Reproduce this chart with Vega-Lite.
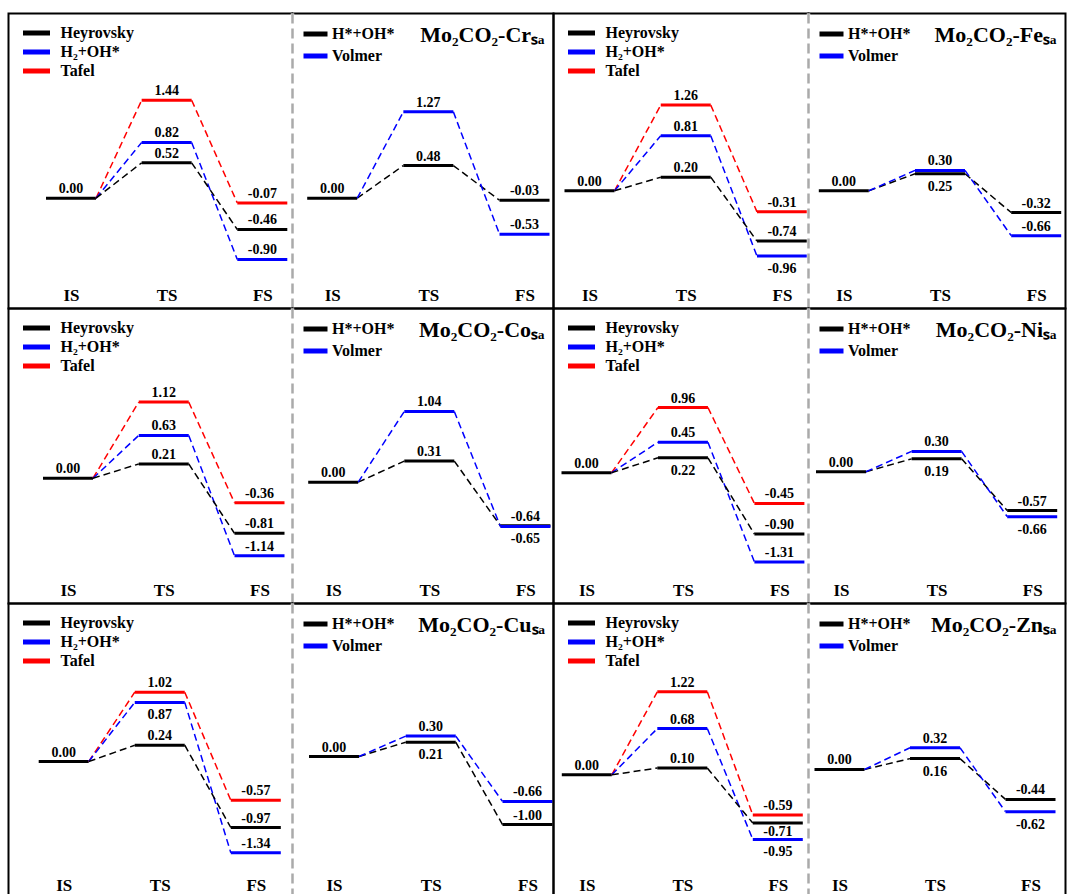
{
"$schema": "https://vega.github.io/schema/vega-lite/v6.json",
"background": "white",
"padding": {"left": 7.5, "top": 10.5, "right": 0, "bottom": 0},
"config": {
 "view": {"stroke": "black", "strokeWidth": 2},
 "axisX": {"domain": false, "ticks": false, "tickSize": 0, "grid": false, "labelPadding": -8, "labelBaseline": "alphabetic", "labelFont": "Liberation Serif", "labelFontSize": 17, "labelFontWeight": "bold", "labelColor": "black", "labelAngle": 0},
 "legend": {"symbolType": "stroke", "symbolSize": 729, "symbolStrokeWidth": 5, "clipHeight": 19, "padding": 0, "labelFont": "Liberation Serif", "labelFontSize": 16, "labelFontWeight": "bold", "labelColor": "black"},
 "title": {"font": "Liberation Serif", "fontSize": 22, "fontWeight": "bold", "color": "black", "anchor": "end", "offset": -35, "dx": -9, "baseline": "alphabetic"},
 "text": {"font": "Liberation Serif", "fontSize": 14, "fontWeight": "bold"},
 "locale": {"number": {"decimal": ".", "thousands": ",", "grouping": [3], "currency": ["$", ""], "minus": "-"}}
},
"data": {"values": [
 {"panel":"CrL","path":"Tafel","state":"IS","E":0},{"panel":"CrL","path":"Tafel","state":"TS","E":1.44},{"panel":"CrL","path":"Tafel","state":"FS","E":-0.07},
 {"panel":"CrL","path":"H₂+OH*","state":"IS","E":0},{"panel":"CrL","path":"H₂+OH*","state":"TS","E":0.82},{"panel":"CrL","path":"H₂+OH*","state":"FS","E":-0.90},
 {"panel":"CrL","path":"Heyrovsky","state":"IS","E":0},{"panel":"CrL","path":"Heyrovsky","state":"TS","E":0.52},{"panel":"CrL","path":"Heyrovsky","state":"FS","E":-0.46},
 {"panel":"CrR","path":"H*+OH*","state":"IS","E":0},{"panel":"CrR","path":"H*+OH*","state":"TS","E":0.48},{"panel":"CrR","path":"H*+OH*","state":"FS","E":-0.03},
 {"panel":"CrR","path":"Volmer","state":"IS","E":0},{"panel":"CrR","path":"Volmer","state":"TS","E":1.27},{"panel":"CrR","path":"Volmer","state":"FS","E":-0.53},
 {"panel":"FeL","path":"Tafel","state":"IS","E":0},{"panel":"FeL","path":"Tafel","state":"TS","E":1.26},{"panel":"FeL","path":"Tafel","state":"FS","E":-0.31},
 {"panel":"FeL","path":"H₂+OH*","state":"IS","E":0},{"panel":"FeL","path":"H₂+OH*","state":"TS","E":0.81},{"panel":"FeL","path":"H₂+OH*","state":"FS","E":-0.96},
 {"panel":"FeL","path":"Heyrovsky","state":"IS","E":0},{"panel":"FeL","path":"Heyrovsky","state":"TS","E":0.20},{"panel":"FeL","path":"Heyrovsky","state":"FS","E":-0.74},
 {"panel":"FeR","path":"H*+OH*","state":"IS","E":0},{"panel":"FeR","path":"H*+OH*","state":"TS","E":0.25},{"panel":"FeR","path":"H*+OH*","state":"FS","E":-0.32},
 {"panel":"FeR","path":"Volmer","state":"IS","E":0},{"panel":"FeR","path":"Volmer","state":"TS","E":0.30},{"panel":"FeR","path":"Volmer","state":"FS","E":-0.66},
 {"panel":"CoL","path":"Tafel","state":"IS","E":0},{"panel":"CoL","path":"Tafel","state":"TS","E":1.12},{"panel":"CoL","path":"Tafel","state":"FS","E":-0.36},
 {"panel":"CoL","path":"H₂+OH*","state":"IS","E":0},{"panel":"CoL","path":"H₂+OH*","state":"TS","E":0.63},{"panel":"CoL","path":"H₂+OH*","state":"FS","E":-1.14},
 {"panel":"CoL","path":"Heyrovsky","state":"IS","E":0},{"panel":"CoL","path":"Heyrovsky","state":"TS","E":0.21},{"panel":"CoL","path":"Heyrovsky","state":"FS","E":-0.81},
 {"panel":"CoR","path":"H*+OH*","state":"IS","E":0},{"panel":"CoR","path":"H*+OH*","state":"TS","E":0.31},{"panel":"CoR","path":"H*+OH*","state":"FS","E":-0.64},
 {"panel":"CoR","path":"Volmer","state":"IS","E":0},{"panel":"CoR","path":"Volmer","state":"TS","E":1.04},{"panel":"CoR","path":"Volmer","state":"FS","E":-0.65},
 {"panel":"NiL","path":"Tafel","state":"IS","E":0},{"panel":"NiL","path":"Tafel","state":"TS","E":0.96},{"panel":"NiL","path":"Tafel","state":"FS","E":-0.45},
 {"panel":"NiL","path":"H₂+OH*","state":"IS","E":0},{"panel":"NiL","path":"H₂+OH*","state":"TS","E":0.45},{"panel":"NiL","path":"H₂+OH*","state":"FS","E":-1.31},
 {"panel":"NiL","path":"Heyrovsky","state":"IS","E":0},{"panel":"NiL","path":"Heyrovsky","state":"TS","E":0.22},{"panel":"NiL","path":"Heyrovsky","state":"FS","E":-0.90},
 {"panel":"NiR","path":"H*+OH*","state":"IS","E":0},{"panel":"NiR","path":"H*+OH*","state":"TS","E":0.19},{"panel":"NiR","path":"H*+OH*","state":"FS","E":-0.57},
 {"panel":"NiR","path":"Volmer","state":"IS","E":0},{"panel":"NiR","path":"Volmer","state":"TS","E":0.30},{"panel":"NiR","path":"Volmer","state":"FS","E":-0.66},
 {"panel":"CuL","path":"Tafel","state":"IS","E":0},{"panel":"CuL","path":"Tafel","state":"TS","E":1.02},{"panel":"CuL","path":"Tafel","state":"FS","E":-0.57},
 {"panel":"CuL","path":"H₂+OH*","state":"IS","E":0},{"panel":"CuL","path":"H₂+OH*","state":"TS","E":0.87},{"panel":"CuL","path":"H₂+OH*","state":"FS","E":-1.34},
 {"panel":"CuL","path":"Heyrovsky","state":"IS","E":0},{"panel":"CuL","path":"Heyrovsky","state":"TS","E":0.24},{"panel":"CuL","path":"Heyrovsky","state":"FS","E":-0.97},
 {"panel":"CuR","path":"H*+OH*","state":"IS","E":0},{"panel":"CuR","path":"H*+OH*","state":"TS","E":0.21},{"panel":"CuR","path":"H*+OH*","state":"FS","E":-1.00},
 {"panel":"CuR","path":"Volmer","state":"IS","E":0},{"panel":"CuR","path":"Volmer","state":"TS","E":0.30},{"panel":"CuR","path":"Volmer","state":"FS","E":-0.66},
 {"panel":"ZnL","path":"Tafel","state":"IS","E":0},{"panel":"ZnL","path":"Tafel","state":"TS","E":1.22},{"panel":"ZnL","path":"Tafel","state":"FS","E":-0.59},
 {"panel":"ZnL","path":"H₂+OH*","state":"IS","E":0},{"panel":"ZnL","path":"H₂+OH*","state":"TS","E":0.68},{"panel":"ZnL","path":"H₂+OH*","state":"FS","E":-0.95},
 {"panel":"ZnL","path":"Heyrovsky","state":"IS","E":0},{"panel":"ZnL","path":"Heyrovsky","state":"TS","E":0.10},{"panel":"ZnL","path":"Heyrovsky","state":"FS","E":-0.71},
 {"panel":"ZnR","path":"H*+OH*","state":"IS","E":0},{"panel":"ZnR","path":"H*+OH*","state":"TS","E":0.16},{"panel":"ZnR","path":"H*+OH*","state":"FS","E":-0.44},
 {"panel":"ZnR","path":"Volmer","state":"IS","E":0},{"panel":"ZnR","path":"Volmer","state":"TS","E":0.32},{"panel":"ZnR","path":"Volmer","state":"FS","E":-0.62}
]},
"columns": 4,
"spacing": 0,
"bounds": "flush",
"resolve": {"scale": {"color": "independent"}, "legend": {"color": "independent"}},
"concat": [
 {"width": 283.5, "height": 295,
  "transform": [{"filter": {"field": "panel", "equal": "CrL"}}],
  "encoding": {
   "x": {"field": "state", "type": "ordinal", "title": null, "scale": {"type": "point", "padding": 0, "domain": ["IS","TS","FS"], "range": [62.5, 253.8]}},
   "y": {"field": "E", "type": "quantitative", "scale": {"domain": [-1.622, 2.716], "nice": false, "zero": false}, "axis": null},
   "color": {"field": "path", "type": "nominal", "scale": {"domain": ["Heyrovsky","H₂+OH*","Tafel"], "range": ["#000000","#0000ff","#ff0000"]}, "legend": {"title": null, "orient": "top-left", "offset": 10, "symbolOffset": 2, "labelOffset": 8, "rowPadding": 0}}
  },
  "layer": [
   {"transform": [{"filter": "datum.state != 'IS' || datum.path == 'Heyrovsky' || datum.path == 'H*+OH*'"}],
    "mark": {"type": "rule", "strokeWidth": 3, "xOffset": -25, "x2Offset": 25},
    "encoding": {"x2": {"field": "state"}}},
   {"transform": [{"window": [{"op": "lead", "field": "E", "as": "E2"}, {"op": "lead", "field": "state", "as": "s2"}], "groupby": ["path"]}, {"filter": "datum.s2 != null"}],
    "mark": {"type": "rule", "strokeWidth": 1.5, "strokeDash": [7, 4], "xOffset": 25, "x2Offset": -25},
    "encoding": {"x2": {"field": "s2"}, "y2": {"field": "E2"}}},
   {"transform": [{"filter": "datum.state != 'IS' || datum.path == 'Heyrovsky' || datum.path == 'H*+OH*'"}],
    "mark": {"type": "text", "dy": -5, "baseline": "alphabetic"},
    "encoding": {"text": {"field": "E", "type": "quantitative", "format": ".2f"}, "color": {"value": "black"}}}
  ]},
 {"width": 261, "height": 295, "title": "Mo₂CO₂-Crₛₐ",
  "transform": [{"filter": {"field": "panel", "equal": "CrR"}}],
  "encoding": {
   "x": {"field": "state", "type": "ordinal", "title": null, "scale": {"type": "point", "padding": 0, "domain": ["IS","TS","FS"], "range": [39.7, 232]}},
   "y": {"field": "E", "type": "quantitative", "scale": {"domain": [-1.622, 2.716], "nice": false, "zero": false}, "axis": null},
   "color": {"field": "path", "type": "nominal", "scale": {"domain": ["H*+OH*","Volmer"], "range": ["#000000","#0000ff"]}, "legend": {"title": null, "orient": "top-left", "offset": 11, "symbolOffset": -5.5, "labelOffset": 2, "rowPadding": 3}}
  },
  "layer": [
   {"transform": [{"filter": "datum.state == 'IS' && datum.path == 'Volmer'"}], "mark": {"type": "rule", "strokeWidth": 3.5}, "encoding": {"x": {"value": 0}, "y": {"value": 0}, "y2": {"value": "height"}, "color": {"value": "white"}}},
   {"transform": [{"filter": "datum.state == 'IS' && datum.path == 'Volmer'"}], "mark": {"type": "rule", "strokeWidth": 2.5, "strokeDash": [10, 5]}, "encoding": {"x": {"value": 0}, "y": {"value": 0}, "y2": {"value": "height"}, "color": {"value": "#aaaaaa"}}},
   {"transform": [{"filter": "datum.state != 'IS' || datum.path == 'Heyrovsky' || datum.path == 'H*+OH*'"}],
    "mark": {"type": "rule", "strokeWidth": 3, "xOffset": -25, "x2Offset": 25},
    "encoding": {"x2": {"field": "state"}}},
   {"transform": [{"window": [{"op": "lead", "field": "E", "as": "E2"}, {"op": "lead", "field": "state", "as": "s2"}], "groupby": ["path"]}, {"filter": "datum.s2 != null"}],
    "mark": {"type": "rule", "strokeWidth": 1.5, "strokeDash": [7, 4], "xOffset": 25, "x2Offset": -25},
    "encoding": {"x2": {"field": "s2"}, "y2": {"field": "E2"}}},
   {"transform": [{"filter": "datum.state != 'IS' || datum.path == 'Heyrovsky' || datum.path == 'H*+OH*'"}],
    "mark": {"type": "text", "dy": -5, "baseline": "alphabetic"},
    "encoding": {"text": {"field": "E", "type": "quantitative", "format": ".2f"}, "color": {"value": "black"}}}
  ]},
 {"width": 255, "height": 295,
  "transform": [{"filter": {"field": "panel", "equal": "FeL"}}],
  "encoding": {
   "x": {"field": "state", "type": "ordinal", "title": null, "scale": {"type": "point", "padding": 0, "domain": ["IS","TS","FS"], "range": [36, 228.5]}},
   "y": {"field": "E", "type": "quantitative", "scale": {"domain": [-1.731, 2.607], "nice": false, "zero": false}, "axis": null},
   "color": {"field": "path", "type": "nominal", "scale": {"domain": ["Heyrovsky","H₂+OH*","Tafel"], "range": ["#000000","#0000ff","#ff0000"]}, "legend": {"title": null, "orient": "top-left", "offset": 10, "symbolOffset": 2, "labelOffset": 8, "rowPadding": 0}}
  },
  "layer": [
   {"transform": [{"filter": "datum.state != 'IS' || datum.path == 'Heyrovsky' || datum.path == 'H*+OH*'"}],
    "mark": {"type": "rule", "strokeWidth": 3, "xOffset": -25, "x2Offset": 25},
    "encoding": {"x2": {"field": "state"}}},
   {"transform": [{"window": [{"op": "lead", "field": "E", "as": "E2"}, {"op": "lead", "field": "state", "as": "s2"}], "groupby": ["path"]}, {"filter": "datum.s2 != null"}],
    "mark": {"type": "rule", "strokeWidth": 1.5, "strokeDash": [7, 4], "xOffset": 25, "x2Offset": -25},
    "encoding": {"x2": {"field": "s2"}, "y2": {"field": "E2"}}},
   {"transform": [{"filter": "(datum.state != 'IS' || datum.path == 'Heyrovsky' || datum.path == 'H*+OH*') && !(datum.path == 'H₂+OH*' && datum.state == 'FS')"}],
    "mark": {"type": "text", "dy": -5, "baseline": "alphabetic"},
    "encoding": {"text": {"field": "E", "type": "quantitative", "format": ".2f"}, "color": {"value": "black"}}},
   {"transform": [{"filter": "datum.path == 'H₂+OH*' && datum.state == 'FS'"}],
    "mark": {"type": "text", "dy": 17, "baseline": "alphabetic"},
    "encoding": {"text": {"field": "E", "type": "quantitative", "format": ".2f"}, "color": {"value": "black"}}}
  ]},
 {"width": 257, "height": 295, "title": "Mo₂CO₂-Feₛₐ",
  "transform": [{"filter": {"field": "panel", "equal": "FeR"}}],
  "encoding": {
   "x": {"field": "state", "type": "ordinal", "title": null, "scale": {"type": "point", "padding": 0, "domain": ["IS","TS","FS"], "range": [35.3, 227.7]}},
   "y": {"field": "E", "type": "quantitative", "scale": {"domain": [-1.731, 2.607], "nice": false, "zero": false}, "axis": null},
   "color": {"field": "path", "type": "nominal", "scale": {"domain": ["H*+OH*","Volmer"], "range": ["#000000","#0000ff"]}, "legend": {"title": null, "orient": "top-left", "offset": 11, "symbolOffset": -5.5, "labelOffset": 2, "rowPadding": 3}}
  },
  "layer": [
   {"transform": [{"filter": "datum.state == 'IS' && datum.path == 'Volmer'"}], "mark": {"type": "rule", "strokeWidth": 3.5}, "encoding": {"x": {"value": 0}, "y": {"value": 0}, "y2": {"value": "height"}, "color": {"value": "white"}}},
   {"transform": [{"filter": "datum.state == 'IS' && datum.path == 'Volmer'"}], "mark": {"type": "rule", "strokeWidth": 2.5, "strokeDash": [10, 5]}, "encoding": {"x": {"value": 0}, "y": {"value": 0}, "y2": {"value": "height"}, "color": {"value": "#aaaaaa"}}},
   {"transform": [{"filter": "datum.state != 'IS' || datum.path == 'Heyrovsky' || datum.path == 'H*+OH*'"}],
    "mark": {"type": "rule", "strokeWidth": 3, "xOffset": -25, "x2Offset": 25},
    "encoding": {"x2": {"field": "state"}}},
   {"transform": [{"window": [{"op": "lead", "field": "E", "as": "E2"}, {"op": "lead", "field": "state", "as": "s2"}], "groupby": ["path"]}, {"filter": "datum.s2 != null"}],
    "mark": {"type": "rule", "strokeWidth": 1.5, "strokeDash": [7, 4], "xOffset": 25, "x2Offset": -25},
    "encoding": {"x2": {"field": "s2"}, "y2": {"field": "E2"}}},
   {"transform": [{"filter": "(datum.state != 'IS' || datum.path == 'Heyrovsky' || datum.path == 'H*+OH*') && !(datum.path == 'H*+OH*' && datum.state == 'TS')"}],
    "mark": {"type": "text", "dy": -5, "baseline": "alphabetic"},
    "encoding": {"text": {"field": "E", "type": "quantitative", "format": ".2f"}, "color": {"value": "black"}}},
   {"transform": [{"filter": "datum.path == 'H*+OH*' && datum.state == 'TS'"}],
    "mark": {"type": "text", "dy": 17, "baseline": "alphabetic"},
    "encoding": {"text": {"field": "E", "type": "quantitative", "format": ".2f"}, "color": {"value": "black"}}}
  ]},
 {"width": 283.5, "height": 295,
  "transform": [{"filter": {"field": "panel", "equal": "CoL"}}],
  "encoding": {
   "x": {"field": "state", "type": "ordinal", "title": null, "scale": {"type": "point", "padding": 0, "domain": ["IS","TS","FS"], "range": [59.5, 251]}},
   "y": {"field": "E", "type": "quantitative", "scale": {"domain": [-1.842, 2.496], "nice": false, "zero": false}, "axis": null},
   "color": {"field": "path", "type": "nominal", "scale": {"domain": ["Heyrovsky","H₂+OH*","Tafel"], "range": ["#000000","#0000ff","#ff0000"]}, "legend": {"title": null, "orient": "top-left", "offset": 10, "symbolOffset": 2, "labelOffset": 8, "rowPadding": 0}}
  },
  "layer": [
   {"transform": [{"filter": "datum.state != 'IS' || datum.path == 'Heyrovsky' || datum.path == 'H*+OH*'"}],
    "mark": {"type": "rule", "strokeWidth": 3, "xOffset": -25, "x2Offset": 25},
    "encoding": {"x2": {"field": "state"}}},
   {"transform": [{"window": [{"op": "lead", "field": "E", "as": "E2"}, {"op": "lead", "field": "state", "as": "s2"}], "groupby": ["path"]}, {"filter": "datum.s2 != null"}],
    "mark": {"type": "rule", "strokeWidth": 1.5, "strokeDash": [7, 4], "xOffset": 25, "x2Offset": -25},
    "encoding": {"x2": {"field": "s2"}, "y2": {"field": "E2"}}},
   {"transform": [{"filter": "datum.state != 'IS' || datum.path == 'Heyrovsky' || datum.path == 'H*+OH*'"}],
    "mark": {"type": "text", "dy": -5, "baseline": "alphabetic"},
    "encoding": {"text": {"field": "E", "type": "quantitative", "format": ".2f"}, "color": {"value": "black"}}}
  ]},
 {"width": 261, "height": 295, "title": "Mo₂CO₂-Coₛₐ",
  "transform": [{"filter": {"field": "panel", "equal": "CoR"}}],
  "encoding": {
   "x": {"field": "state", "type": "ordinal", "title": null, "scale": {"type": "point", "padding": 0, "domain": ["IS","TS","FS"], "range": [40.7, 232.9]}},
   "y": {"field": "E", "type": "quantitative", "scale": {"domain": [-1.784, 2.554], "nice": false, "zero": false}, "axis": null},
   "color": {"field": "path", "type": "nominal", "scale": {"domain": ["H*+OH*","Volmer"], "range": ["#000000","#0000ff"]}, "legend": {"title": null, "orient": "top-left", "offset": 11, "symbolOffset": -5.5, "labelOffset": 2, "rowPadding": 3}}
  },
  "layer": [
   {"transform": [{"filter": "datum.state == 'IS' && datum.path == 'Volmer'"}], "mark": {"type": "rule", "strokeWidth": 3.5}, "encoding": {"x": {"value": 0}, "y": {"value": 0}, "y2": {"value": "height"}, "color": {"value": "white"}}},
   {"transform": [{"filter": "datum.state == 'IS' && datum.path == 'Volmer'"}], "mark": {"type": "rule", "strokeWidth": 2.5, "strokeDash": [10, 5]}, "encoding": {"x": {"value": 0}, "y": {"value": 0}, "y2": {"value": "height"}, "color": {"value": "#aaaaaa"}}},
   {"transform": [{"filter": "datum.state != 'IS' || datum.path == 'Heyrovsky' || datum.path == 'H*+OH*'"}],
    "mark": {"type": "rule", "strokeWidth": 3, "xOffset": -25, "x2Offset": 25},
    "encoding": {"x2": {"field": "state"}}},
   {"transform": [{"window": [{"op": "lead", "field": "E", "as": "E2"}, {"op": "lead", "field": "state", "as": "s2"}], "groupby": ["path"]}, {"filter": "datum.s2 != null"}],
    "mark": {"type": "rule", "strokeWidth": 1.5, "strokeDash": [7, 4], "xOffset": 25, "x2Offset": -25},
    "encoding": {"x2": {"field": "s2"}, "y2": {"field": "E2"}}},
   {"transform": [{"filter": "(datum.state != 'IS' || datum.path == 'Heyrovsky' || datum.path == 'H*+OH*') && !(datum.path == 'Volmer' && datum.state == 'FS')"}],
    "mark": {"type": "text", "dy": -5, "baseline": "alphabetic"},
    "encoding": {"text": {"field": "E", "type": "quantitative", "format": ".2f"}, "color": {"value": "black"}}},
   {"transform": [{"filter": "datum.path == 'Volmer' && datum.state == 'FS'"}],
    "mark": {"type": "text", "dy": 17, "baseline": "alphabetic"},
    "encoding": {"text": {"field": "E", "type": "quantitative", "format": ".2f"}, "color": {"value": "black"}}}
  ]},
 {"width": 255, "height": 295,
  "transform": [{"filter": {"field": "panel", "equal": "NiL"}}],
  "encoding": {
   "x": {"field": "state", "type": "ordinal", "title": null, "scale": {"type": "point", "padding": 0, "domain": ["IS","TS","FS"], "range": [33, 225.9]}},
   "y": {"field": "E", "type": "quantitative", "scale": {"domain": [-1.922, 2.416], "nice": false, "zero": false}, "axis": null},
   "color": {"field": "path", "type": "nominal", "scale": {"domain": ["Heyrovsky","H₂+OH*","Tafel"], "range": ["#000000","#0000ff","#ff0000"]}, "legend": {"title": null, "orient": "top-left", "offset": 10, "symbolOffset": 2, "labelOffset": 8, "rowPadding": 0}}
  },
  "layer": [
   {"transform": [{"filter": "datum.state != 'IS' || datum.path == 'Heyrovsky' || datum.path == 'H*+OH*'"}],
    "mark": {"type": "rule", "strokeWidth": 3, "xOffset": -25, "x2Offset": 25},
    "encoding": {"x2": {"field": "state"}}},
   {"transform": [{"window": [{"op": "lead", "field": "E", "as": "E2"}, {"op": "lead", "field": "state", "as": "s2"}], "groupby": ["path"]}, {"filter": "datum.s2 != null"}],
    "mark": {"type": "rule", "strokeWidth": 1.5, "strokeDash": [7, 4], "xOffset": 25, "x2Offset": -25},
    "encoding": {"x2": {"field": "s2"}, "y2": {"field": "E2"}}},
   {"transform": [{"filter": "(datum.state != 'IS' || datum.path == 'Heyrovsky' || datum.path == 'H*+OH*') && !(datum.path == 'Heyrovsky' && datum.state == 'TS')"}],
    "mark": {"type": "text", "dy": -5, "baseline": "alphabetic"},
    "encoding": {"text": {"field": "E", "type": "quantitative", "format": ".2f"}, "color": {"value": "black"}}},
   {"transform": [{"filter": "datum.path == 'Heyrovsky' && datum.state == 'TS'"}],
    "mark": {"type": "text", "dy": 17, "baseline": "alphabetic"},
    "encoding": {"text": {"field": "E", "type": "quantitative", "format": ".2f"}, "color": {"value": "black"}}}
  ]},
 {"width": 257, "height": 295, "title": "Mo₂CO₂-Niₛₐ",
  "transform": [{"filter": {"field": "panel", "equal": "NiR"}}],
  "encoding": {
   "x": {"field": "state", "type": "ordinal", "title": null, "scale": {"type": "point", "padding": 0, "domain": ["IS","TS","FS"], "range": [32.5, 223.7]}},
   "y": {"field": "E", "type": "quantitative", "scale": {"domain": [-1.937, 2.401], "nice": false, "zero": false}, "axis": null},
   "color": {"field": "path", "type": "nominal", "scale": {"domain": ["H*+OH*","Volmer"], "range": ["#000000","#0000ff"]}, "legend": {"title": null, "orient": "top-left", "offset": 11, "symbolOffset": -5.5, "labelOffset": 2, "rowPadding": 3}}
  },
  "layer": [
   {"transform": [{"filter": "datum.state == 'IS' && datum.path == 'Volmer'"}], "mark": {"type": "rule", "strokeWidth": 3.5}, "encoding": {"x": {"value": 0}, "y": {"value": 0}, "y2": {"value": "height"}, "color": {"value": "white"}}},
   {"transform": [{"filter": "datum.state == 'IS' && datum.path == 'Volmer'"}], "mark": {"type": "rule", "strokeWidth": 2.5, "strokeDash": [10, 5]}, "encoding": {"x": {"value": 0}, "y": {"value": 0}, "y2": {"value": "height"}, "color": {"value": "#aaaaaa"}}},
   {"transform": [{"filter": "datum.state != 'IS' || datum.path == 'Heyrovsky' || datum.path == 'H*+OH*'"}],
    "mark": {"type": "rule", "strokeWidth": 3, "xOffset": -25, "x2Offset": 25},
    "encoding": {"x2": {"field": "state"}}},
   {"transform": [{"window": [{"op": "lead", "field": "E", "as": "E2"}, {"op": "lead", "field": "state", "as": "s2"}], "groupby": ["path"]}, {"filter": "datum.s2 != null"}],
    "mark": {"type": "rule", "strokeWidth": 1.5, "strokeDash": [7, 4], "xOffset": 25, "x2Offset": -25},
    "encoding": {"x2": {"field": "s2"}, "y2": {"field": "E2"}}},
   {"transform": [{"filter": "(datum.state != 'IS' || datum.path == 'Heyrovsky' || datum.path == 'H*+OH*') && !((datum.path == 'H*+OH*' && datum.state == 'TS') || (datum.path == 'Volmer' && datum.state == 'FS'))"}],
    "mark": {"type": "text", "dy": -5, "baseline": "alphabetic"},
    "encoding": {"text": {"field": "E", "type": "quantitative", "format": ".2f"}, "color": {"value": "black"}}},
   {"transform": [{"filter": "(datum.path == 'H*+OH*' && datum.state == 'TS') || (datum.path == 'Volmer' && datum.state == 'FS')"}],
    "mark": {"type": "text", "dy": 17, "baseline": "alphabetic"},
    "encoding": {"text": {"field": "E", "type": "quantitative", "format": ".2f"}, "color": {"value": "black"}}}
  ]},
 {"width": 283.5, "height": 295,
  "transform": [{"filter": {"field": "panel", "equal": "CuL"}}],
  "encoding": {
   "x": {"field": "state", "type": "ordinal", "title": null, "scale": {"type": "point", "padding": 0, "domain": ["IS","TS","FS"], "range": [55.2, 247.3]}},
   "y": {"field": "E", "type": "quantitative", "scale": {"domain": [-2.014, 2.324], "nice": false, "zero": false}, "axis": null},
   "color": {"field": "path", "type": "nominal", "scale": {"domain": ["Heyrovsky","H₂+OH*","Tafel"], "range": ["#000000","#0000ff","#ff0000"]}, "legend": {"title": null, "orient": "top-left", "offset": 10, "symbolOffset": 2, "labelOffset": 8, "rowPadding": 0}}
  },
  "layer": [
   {"transform": [{"filter": "datum.state != 'IS' || datum.path == 'Heyrovsky' || datum.path == 'H*+OH*'"}],
    "mark": {"type": "rule", "strokeWidth": 3, "xOffset": -25, "x2Offset": 25},
    "encoding": {"x2": {"field": "state"}}},
   {"transform": [{"window": [{"op": "lead", "field": "E", "as": "E2"}, {"op": "lead", "field": "state", "as": "s2"}], "groupby": ["path"]}, {"filter": "datum.s2 != null"}],
    "mark": {"type": "rule", "strokeWidth": 1.5, "strokeDash": [7, 4], "xOffset": 25, "x2Offset": -25},
    "encoding": {"x2": {"field": "s2"}, "y2": {"field": "E2"}}},
   {"transform": [{"filter": "(datum.state != 'IS' || datum.path == 'Heyrovsky' || datum.path == 'H*+OH*') && !(datum.path == 'H₂+OH*' && datum.state == 'TS')"}],
    "mark": {"type": "text", "dy": -5, "baseline": "alphabetic"},
    "encoding": {"text": {"field": "E", "type": "quantitative", "format": ".2f"}, "color": {"value": "black"}}},
   {"transform": [{"filter": "datum.path == 'H₂+OH*' && datum.state == 'TS'"}],
    "mark": {"type": "text", "dy": 17, "baseline": "alphabetic"},
    "encoding": {"text": {"field": "E", "type": "quantitative", "format": ".2f"}, "color": {"value": "black"}}}
  ]},
 {"width": 261, "height": 295, "title": "Mo₂CO₂-Cuₛₐ",
  "transform": [{"filter": {"field": "panel", "equal": "CuR"}}],
  "encoding": {
   "x": {"field": "state", "type": "ordinal", "title": null, "scale": {"type": "point", "padding": 0, "domain": ["IS","TS","FS"], "range": [41.5, 235]}},
   "y": {"field": "E", "type": "quantitative", "scale": {"domain": [-2.088, 2.25], "nice": false, "zero": false}, "axis": null},
   "color": {"field": "path", "type": "nominal", "scale": {"domain": ["H*+OH*","Volmer"], "range": ["#000000","#0000ff"]}, "legend": {"title": null, "orient": "top-left", "offset": 11, "symbolOffset": -5.5, "labelOffset": 2, "rowPadding": 3}}
  },
  "layer": [
   {"transform": [{"filter": "datum.state == 'IS' && datum.path == 'Volmer'"}], "mark": {"type": "rule", "strokeWidth": 3.5}, "encoding": {"x": {"value": 0}, "y": {"value": 0}, "y2": {"value": "height"}, "color": {"value": "white"}}},
   {"transform": [{"filter": "datum.state == 'IS' && datum.path == 'Volmer'"}], "mark": {"type": "rule", "strokeWidth": 2.5, "strokeDash": [10, 5]}, "encoding": {"x": {"value": 0}, "y": {"value": 0}, "y2": {"value": "height"}, "color": {"value": "#aaaaaa"}}},
   {"transform": [{"filter": "datum.state != 'IS' || datum.path == 'Heyrovsky' || datum.path == 'H*+OH*'"}],
    "mark": {"type": "rule", "strokeWidth": 3, "xOffset": -25, "x2Offset": 25},
    "encoding": {"x2": {"field": "state"}}},
   {"transform": [{"window": [{"op": "lead", "field": "E", "as": "E2"}, {"op": "lead", "field": "state", "as": "s2"}], "groupby": ["path"]}, {"filter": "datum.s2 != null"}],
    "mark": {"type": "rule", "strokeWidth": 1.5, "strokeDash": [7, 4], "xOffset": 25, "x2Offset": -25},
    "encoding": {"x2": {"field": "s2"}, "y2": {"field": "E2"}}},
   {"transform": [{"filter": "(datum.state != 'IS' || datum.path == 'Heyrovsky' || datum.path == 'H*+OH*') && !(datum.path == 'H*+OH*' && datum.state == 'TS')"}],
    "mark": {"type": "text", "dy": -5, "baseline": "alphabetic"},
    "encoding": {"text": {"field": "E", "type": "quantitative", "format": ".2f"}, "color": {"value": "black"}}},
   {"transform": [{"filter": "datum.path == 'H*+OH*' && datum.state == 'TS'"}],
    "mark": {"type": "text", "dy": 17, "baseline": "alphabetic"},
    "encoding": {"text": {"field": "E", "type": "quantitative", "format": ".2f"}, "color": {"value": "black"}}}
  ]},
 {"width": 255, "height": 295,
  "transform": [{"filter": {"field": "panel", "equal": "ZnL"}}],
  "encoding": {
   "x": {"field": "state", "type": "ordinal", "title": null, "scale": {"type": "point", "padding": 0, "domain": ["IS","TS","FS"], "range": [33.3, 224.3]}},
   "y": {"field": "E", "type": "quantitative", "scale": {"domain": [-1.819, 2.519], "nice": false, "zero": false}, "axis": null},
   "color": {"field": "path", "type": "nominal", "scale": {"domain": ["Heyrovsky","H₂+OH*","Tafel"], "range": ["#000000","#0000ff","#ff0000"]}, "legend": {"title": null, "orient": "top-left", "offset": 10, "symbolOffset": 2, "labelOffset": 8, "rowPadding": 0}}
  },
  "layer": [
   {"transform": [{"filter": "datum.state != 'IS' || datum.path == 'Heyrovsky' || datum.path == 'H*+OH*'"}],
    "mark": {"type": "rule", "strokeWidth": 3, "xOffset": -25, "x2Offset": 25},
    "encoding": {"x2": {"field": "state"}}},
   {"transform": [{"window": [{"op": "lead", "field": "E", "as": "E2"}, {"op": "lead", "field": "state", "as": "s2"}], "groupby": ["path"]}, {"filter": "datum.s2 != null"}],
    "mark": {"type": "rule", "strokeWidth": 1.5, "strokeDash": [7, 4], "xOffset": 25, "x2Offset": -25},
    "encoding": {"x2": {"field": "s2"}, "y2": {"field": "E2"}}},
   {"transform": [{"filter": "(datum.state != 'IS' || datum.path == 'Heyrovsky' || datum.path == 'H*+OH*') && !(datum.state == 'FS' && (datum.path == 'Heyrovsky' || datum.path == 'H₂+OH*'))"}],
    "mark": {"type": "text", "dy": -5, "baseline": "alphabetic"},
    "encoding": {"text": {"field": "E", "type": "quantitative", "format": ".2f"}, "color": {"value": "black"}}},
   {"transform": [{"filter": "datum.state == 'FS' && datum.path == 'Heyrovsky'"}],
    "mark": {"type": "text", "dy": 13, "baseline": "alphabetic"},
    "encoding": {"text": {"field": "E", "type": "quantitative", "format": ".2f"}, "color": {"value": "black"}}},
   {"transform": [{"filter": "datum.state == 'FS' && datum.path == 'H₂+OH*'"}],
    "mark": {"type": "text", "dy": 17, "baseline": "alphabetic"},
    "encoding": {"text": {"field": "E", "type": "quantitative", "format": ".2f"}, "color": {"value": "black"}}}
  ]},
 {"width": 257, "height": 295, "title": "Mo₂CO₂-Znₛₐ",
  "transform": [{"filter": {"field": "panel", "equal": "ZnR"}}],
  "encoding": {
   "x": {"field": "state", "type": "ordinal", "title": null, "scale": {"type": "point", "padding": 0, "domain": ["IS","TS","FS"], "range": [31, 222]}},
   "y": {"field": "E", "type": "quantitative", "scale": {"domain": [-1.897, 2.441], "nice": false, "zero": false}, "axis": null},
   "color": {"field": "path", "type": "nominal", "scale": {"domain": ["H*+OH*","Volmer"], "range": ["#000000","#0000ff"]}, "legend": {"title": null, "orient": "top-left", "offset": 11, "symbolOffset": -5.5, "labelOffset": 2, "rowPadding": 3}}
  },
  "layer": [
   {"transform": [{"filter": "datum.state == 'IS' && datum.path == 'Volmer'"}], "mark": {"type": "rule", "strokeWidth": 3.5}, "encoding": {"x": {"value": 0}, "y": {"value": 0}, "y2": {"value": "height"}, "color": {"value": "white"}}},
   {"transform": [{"filter": "datum.state == 'IS' && datum.path == 'Volmer'"}], "mark": {"type": "rule", "strokeWidth": 2.5, "strokeDash": [10, 5]}, "encoding": {"x": {"value": 0}, "y": {"value": 0}, "y2": {"value": "height"}, "color": {"value": "#aaaaaa"}}},
   {"transform": [{"filter": "datum.state != 'IS' || datum.path == 'Heyrovsky' || datum.path == 'H*+OH*'"}],
    "mark": {"type": "rule", "strokeWidth": 3, "xOffset": -25, "x2Offset": 25},
    "encoding": {"x2": {"field": "state"}}},
   {"transform": [{"window": [{"op": "lead", "field": "E", "as": "E2"}, {"op": "lead", "field": "state", "as": "s2"}], "groupby": ["path"]}, {"filter": "datum.s2 != null"}],
    "mark": {"type": "rule", "strokeWidth": 1.5, "strokeDash": [7, 4], "xOffset": 25, "x2Offset": -25},
    "encoding": {"x2": {"field": "s2"}, "y2": {"field": "E2"}}},
   {"transform": [{"filter": "(datum.state != 'IS' || datum.path == 'Heyrovsky' || datum.path == 'H*+OH*') && !((datum.path == 'H*+OH*' && datum.state == 'TS') || (datum.path == 'Volmer' && datum.state == 'FS'))"}],
    "mark": {"type": "text", "dy": -5, "baseline": "alphabetic"},
    "encoding": {"text": {"field": "E", "type": "quantitative", "format": ".2f"}, "color": {"value": "black"}}},
   {"transform": [{"filter": "(datum.path == 'H*+OH*' && datum.state == 'TS') || (datum.path == 'Volmer' && datum.state == 'FS')"}],
    "mark": {"type": "text", "dy": 17, "baseline": "alphabetic"},
    "encoding": {"text": {"field": "E", "type": "quantitative", "format": ".2f"}, "color": {"value": "black"}}}
  ]}
]
}
